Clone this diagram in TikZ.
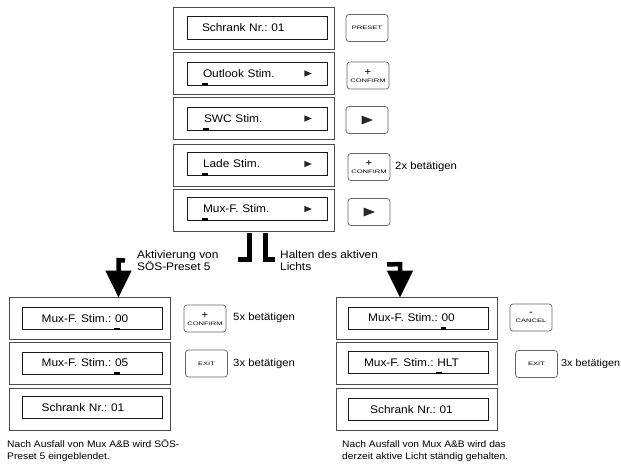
\documentclass[tikz,border=0pt]{standalone}
\usepackage{fontspec}
\usepackage{graphicx}
\setmainfont{Liberation Sans}[FakeStretch=1.08]
\usetikzlibrary{arrows.meta,calc}
\newcommand\cursorbar[1]{\rlap{\hspace{-1pt}\smash{\rule[-8pt]{5.5pt}{2.5pt}}}#1}
\newcommand\btntext[1]{\scalebox{1.4}[1]{\fontsize{5}{6}\selectfont #1}}
\newcommand\btnsign[1]{{\fontsize{10.5}{7}\selectfont #1}}
\begin{document}
\frenchspacing
\begin{tikzpicture}[x=1pt,y=-1pt,
 outerbox/.style={draw=black!70,line width=0.8pt,minimum width=161pt,minimum height=42pt,inner sep=0pt},
 innerbox/.style={draw=black!90,line width=0.6pt,minimum width=140pt,minimum height=23pt,inner sep=0pt,text width=140pt,font=\fontsize{11}{12}\selectfont\frenchspacing},
 leftbox/.style={innerbox,align=left},
 midbox/.style={innerbox,align=center,minimum height=22pt},
 btn/.style={draw=black!60,line width=0.7pt,rounded corners=3pt,minimum width=42pt,minimum height=27pt,inner sep=0pt,align=center,font=\fontsize{5}{7}\selectfont},
 note/.style={anchor=west,align=left,inner sep=0pt,font=\fontsize{9.5}{12}\selectfont\frenchspacing},
 lab/.style={anchor=west,inner sep=0pt,font=\fontsize{10.5}{12}\selectfont},
 arrlab/.style={anchor=west,align=left,inner sep=0pt,font=\fontsize{11}{12}\selectfont},
 bigarrow/.style={line width=4.5pt,line join=miter,-{Triangle[length=27pt,width=25pt]}},
 split/.style={line width=5pt,line join=miter},
 playtri/.style={fill=black!85}
]
\useasboundingbox[fill=white] (0,0) rectangle (621,468);

% ---------- top column ----------
\node[outerbox] (t1o) at (253.5,28) {};
\node[leftbox]  (t1i) at (257,28) {\hspace*{15pt}Schrank Nr.: 01};
\node[btn]      (t1b) at (367,28) {\btntext{PRESET}};

\node[outerbox] (t2o) at (253.5,73.5) {};
\node[leftbox]  (t2i) at (257,73.5) {\hspace*{16pt}\cursorbar{O}utlook Stim.};
\node[btn]      (t2b) at (368,75.5) {\btnsign{+}\\\btntext{CONFIRM}};

\node[outerbox] (t3o) at (253.5,118.5) {};
\node[leftbox]  (t3i) at (257,118.5) {\hspace*{17pt}\cursorbar{S}WC Stim.};
\node[btn]      (t3b) at (367,120) {};

\node[outerbox] (t4o) at (253.5,165) {};
\node[leftbox]  (t4i) at (257,164) {\hspace*{16pt}\cursorbar{L}ade Stim.};
\node[btn]      (t4b) at (369,167) {\btnsign{+}\\\btntext{CONFIRM}};
\node[lab]      (t4l) at (395,167) {2x betätigen};

\node[outerbox] (t5o) at (253.5,210) {};
\node[leftbox]  (t5i) at (257,209) {\hspace*{16pt}\cursorbar{M}ux-F. Stim.};
\node[btn]      (t5b) at (369,212) {};

% small play marks in the displays
\foreach \n in {t2i,t3i,t4i,t5i}{
  \fill[playtri] ($(\n.east)+(-23,-3.2)$) -- ++(7.5,3.2) -- ++(-7.5,3.2) -- cycle;
}
% play buttons
\foreach \n in {t3b,t5b}{
  \fill[playtri] ($(\n.center)+(-5.5,-4.5)$) -- ++(11.5,4.5) -- ++(-11.5,4.5) -- cycle;
}

% ---------- bottom left column ----------
\node[outerbox] (l1o) at (90,318) {};
\node[midbox]   (l1i) at (92,318.5) {\hspace*{-14pt}Mux-F. Stim.: \cursorbar{0}0};
\node[btn]      (l1b) at (205,318.5) {\btnsign{+}\\\btntext{CONFIRM}};
\node[lab]      (l1l) at (233,318) {5x betätigen};

\node[outerbox] (l2o) at (90,363.5) {};
\node[midbox]   (l2i) at (92,363) {\hspace*{-14pt}Mux-F. Stim.: \cursorbar{0}5};
\node[btn]      (l2b) at (206.5,363.5) {\btntext{EXIT}};
\node[lab]      (l2l) at (233,363.5) {3x betätigen};

\node[outerbox] (l3o) at (90,409) {};
\node[midbox]   (l3i) at (92,407.5) {\hspace*{-18pt}Schrank Nr.: 01};

\node[note] (lnote) at (7,451) {Nach Ausfall von Mux A\&B wird SÖS-\\Preset 5 eingeblendet.};

% ---------- bottom right column ----------
\node[outerbox] (r1o) at (417,318) {};
\node[midbox]   (r1i) at (418.5,318) {\hspace*{-14pt}Mux-F. Stim.: \cursorbar{0}0};
\node[btn]      (r1b) at (531,317.5) {\btnsign{-}\\\btntext{CANCEL}};

\node[outerbox] (r2o) at (417,363.5) {};
\node[midbox]   (r2i) at (418.5,362.5) {\hspace*{-14pt}Mux-F. Stim.: \cursorbar{H}LT};
\node[btn]      (r2b) at (536.5,364) {\btntext{EXIT}};
\node[lab,font=\fontsize{10}{12}\selectfont] (r2l) at (561,364) {3x betätigen};

\node[outerbox] (r3o) at (417,409) {};
\node[midbox]   (r3i) at (418.5,409.5) {\hspace*{-14pt}Schrank Nr.: 01};

\node[note] (rnote) at (342,451) {Nach Ausfall von Mux A\&B wird das\\derzeit aktive Licht ständig gehalten.};

% ---------- split marks and arrows ----------
\coordinate (splitL) at ($(t5o.south)+(-4,2)$);
\coordinate (splitR) at ($(t5o.south)+(11.5,2)$);
\draw[split] (splitL) -- ++(0,26.5) -- ++(-11.5,0);
\draw[split] (splitR) -- ++(0,26.5) -- ++(10,0);

\node[arrlab] (alab) at (137,261) {Aktivierung von\\SÖS-Preset 5};
\node[arrlab] (hlab) at (280,261) {Halten des aktiven\\Lichts};

\coordinate (lstart) at (125,260.5);
\coordinate (rstart) at (387,264.5);
\draw[bigarrow] (lstart) -- ($(l1o.north)+(28.5,-36.5)$) -- ($(l1o.north)+(28.5,1)$);
\draw[bigarrow] (rstart) -- ($(r1o.north)+(-17,-32.5)$) -- ($(r1o.north)+(-17,1)$);
\end{tikzpicture}
\end{document}
